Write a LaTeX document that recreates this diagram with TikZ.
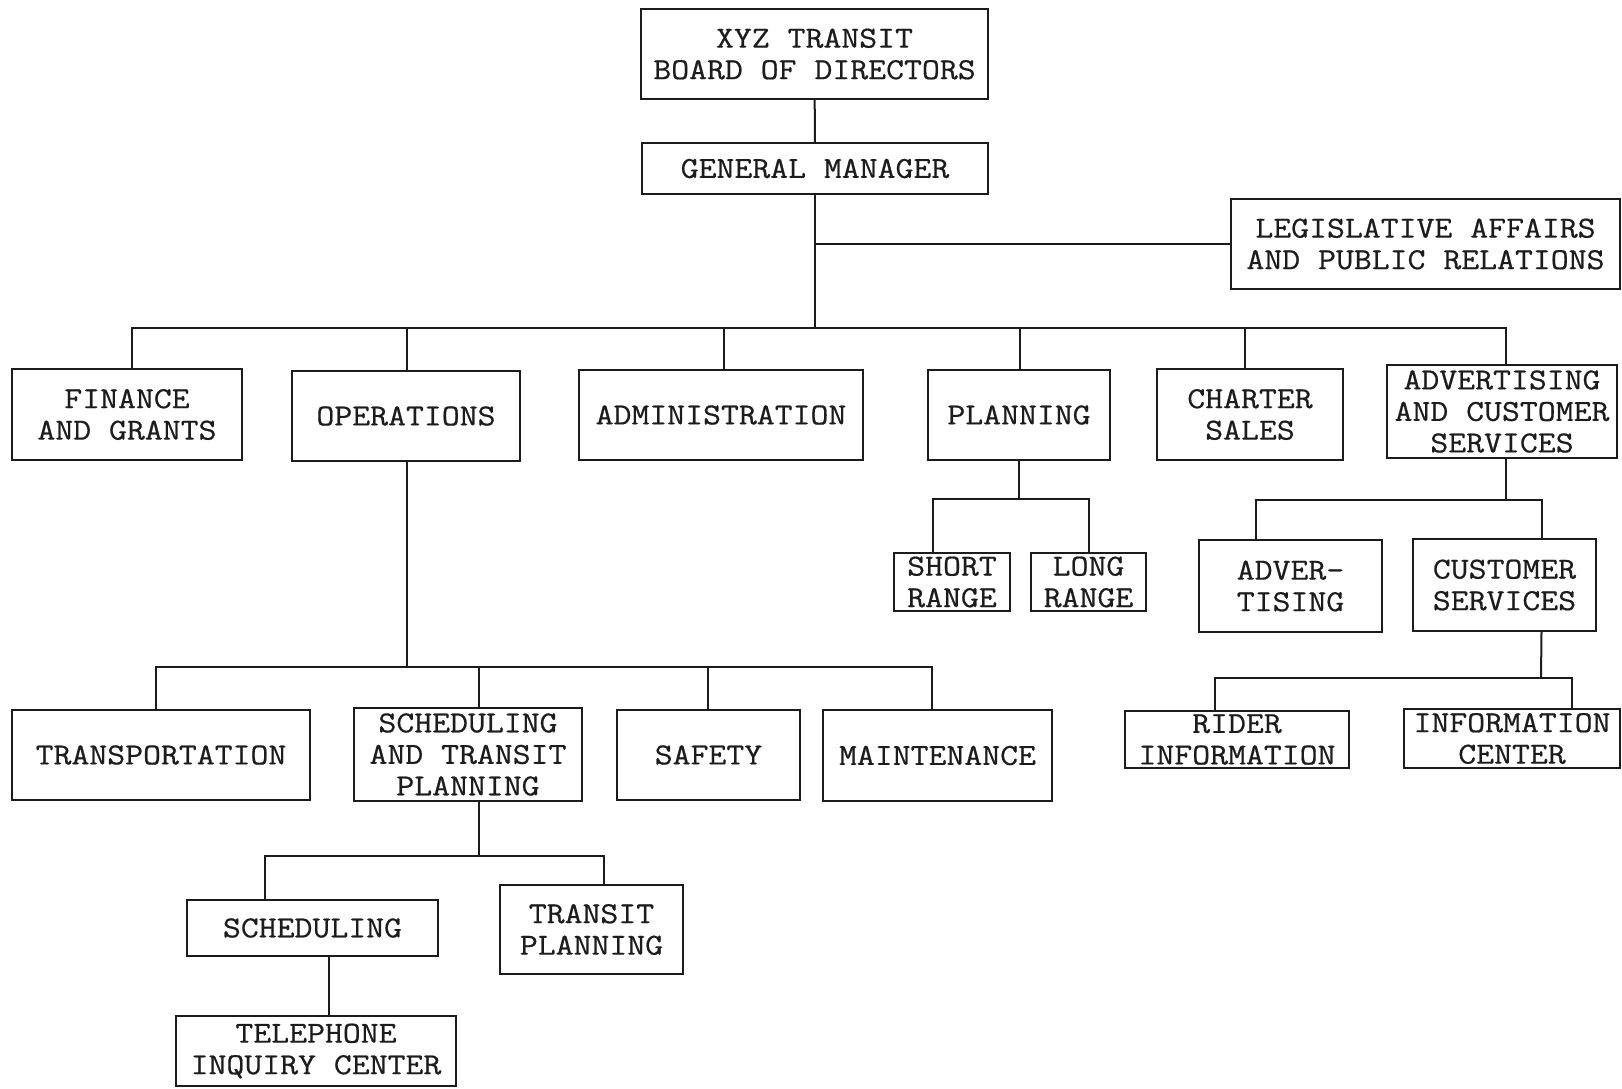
\documentclass[tikz,border=0pt]{standalone}
\usepackage{fontspec}
\setmainfont{Latin Modern Mono}[FakeStretch=1.14, FakeBold=0.6]
\begin{document}
\begin{tikzpicture}[x=1pt,y=-1pt,
  ink/.style={draw={rgb,255:red,28;green,28;blue,28}},
  unit/.style={ink, line width=2pt, rectangle, inner sep=0pt, align=center,
    text={rgb,255:red,28;green,28;blue,28},
    font=\fontsize{30.5}{31.5}\selectfont},
  link/.style={ink, line width=2pt}]
\useasboundingbox (0,0) rectangle (1622,1088);
\fill[white] (0,0) rectangle (1622,1088);

% top of the chart
\node[unit, minimum width=347, minimum height=90] (board) at (814.5,54) {XYZ TRANSIT\\BOARD OF DIRECTORS};
\node[unit, minimum width=346, minimum height=51] (gm) at (815,168.5) {GENERAL MANAGER};
\node[unit, minimum width=389, minimum height=90] (leg) at (1425.5,244) {LEGISLATIVE AFFAIRS\\AND PUBLIC RELATIONS};

% departments
\node[unit, minimum width=230, minimum height=91] (fin) at (127,414.5) {FINANCE\\AND GRANTS};
\node[unit, minimum width=228, minimum height=90] (ops) at (406,416) {OPERATIONS};
\node[unit, minimum width=284, minimum height=90] (adm) at (721,415) {ADMINISTRATION};
\node[unit, minimum width=182, minimum height=90] (pln) at (1019,415) {PLANNING};
\node[unit, minimum width=186, minimum height=91] (chs) at (1250,414.5) {CHARTER\\SALES};
\node[unit, minimum width=230, minimum height=93] (acs) at (1502,411.5) {ADVERTISING\\AND CUSTOMER\\SERVICES};

% planning
\node[unit, minimum width=116, minimum height=58] (sr) at (952,582) {SHORT\\RANGE};
\node[unit, minimum width=115, minimum height=58] (lr) at (1088.5,582) {LONG\\RANGE};

% advertising and customer services
\node[unit, minimum width=183, minimum height=92] (adt) at (1290.5,586) {ADVER-\\TISING};
\node[unit, minimum width=183, minimum height=92] (cus) at (1504.5,585) {CUSTOMER\\SERVICES};
\node[unit, minimum width=224, minimum height=57] (rid) at (1237,739.5) {RIDER\\INFORMATION};
\node[unit, minimum width=216, minimum height=59] (inf) at (1512,738.5) {INFORMATION\\CENTER};

% operations
\node[unit, minimum width=298, minimum height=90] (trn) at (161,755) {TRANSPORTATION};
\node[unit, minimum width=228, minimum height=93] (stp) at (468,754.5) {SCHEDULING\\AND TRANSIT\\PLANNING};
\node[unit, minimum width=183, minimum height=90] (saf) at (708.5,755) {SAFETY};
\node[unit, minimum width=229, minimum height=91] (mnt) at (937.5,755.5) {MAINTENANCE};
\node[unit, minimum width=251, minimum height=56] (sch) at (312.5,928) {SCHEDULING};
\node[unit, minimum width=183, minimum height=89] (tpl) at (591.5,929.5) {TRANSIT\\PLANNING};
\node[unit, minimum width=280, minimum height=70] (tel) at (316,1051) {TELEPHONE\\INQUIRY CENTER};

% bus lines
\coordinate (busA) at (815,328);
\coordinate (busP) at (1019,499);
\coordinate (busC) at (1502,500);
\coordinate (busR) at (1541,678);
\coordinate (busO) at (407,667);
\coordinate (busS) at (479,856);

% connectors
\draw[link] (board) -- (gm);
\draw[link] (gm.south) -- (busA);
\draw[link] (gm.south |- leg.west) -- (leg.west);
\draw[link] ([xshift=5]fin.north) -- ([xshift=5]fin.north |- busA) -- ([xshift=4]acs.north |- busA) -- ([xshift=4]acs.north);
\draw[link] ([xshift=1]ops.north) -- ([xshift=1]ops.north |- busA);
\draw[link] ([xshift=3]adm.north) -- ([xshift=3]adm.north |- busA);
\draw[link] ([xshift=1]pln.north) -- ([xshift=1]pln.north |- busA);
\draw[link] ([xshift=-5]chs.north) -- ([xshift=-5]chs.north |- busA);

\draw[link] (pln.south) -- (busP);
\draw[link] ([xshift=-19]sr.north) -- ([xshift=-19]sr.north |- busP) -- (lr.north |- busP) -- (lr.north);

\draw[link] ([xshift=4]acs.south) -- ([xshift=4]acs.south |- busC);
\draw[link] ([xshift=-35]adt.north) -- ([xshift=-35]adt.north |- busC) -- ([xshift=37]cus.north |- busC) -- ([xshift=37]cus.north);
\draw[link] ([xshift=37]cus.south) -- (busR);
\draw[link] ([xshift=-22]rid.north) -- ([xshift=-22]rid.north |- busR) -- ([xshift=60]inf.north |- busR) -- ([xshift=60]inf.north);

\draw[link] ([xshift=1]ops.south) -- ([xshift=1]ops.south |- busO);
\draw[link] ([xshift=-5]trn.north) -- ([xshift=-5]trn.north |- busO) -- ([xshift=-6]mnt.north |- busO) -- ([xshift=-6]mnt.north);
\draw[link] ([xshift=11]stp.north) -- ([xshift=11]stp.north |- busO);
\draw[link] ([xshift=-1]saf.north) -- ([xshift=-1]saf.north |- busO);

\draw[link] ([xshift=11]stp.south) -- (busS);
\draw[link] ([xshift=-48]sch.north) -- ([xshift=-48]sch.north |- busS) -- ([xshift=12]tpl.north |- busS) -- ([xshift=12]tpl.north);
\draw[link] ([xshift=16]sch.south) -- ([xshift=16]sch.south |- tel.north);
\end{tikzpicture}
\end{document}
